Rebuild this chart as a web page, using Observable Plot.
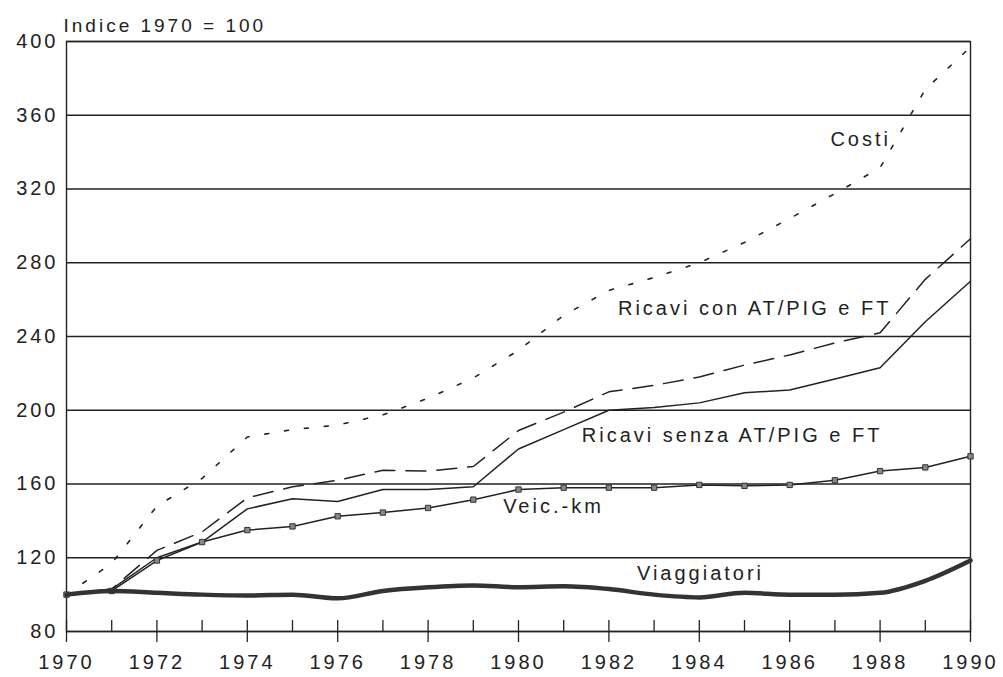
<!DOCTYPE html>
<html>
<head>
<meta charset="utf-8">
<script src="https://cdn.jsdelivr.net/npm/d3@7"></script>
<script src="https://cdn.jsdelivr.net/npm/@observablehq/plot@0.6"></script>
<style>
  html, body { margin: 0; padding: 0; background: #fff; }
</style>
</head>
<body>
<div id="chart"></div>
<script>
const years = [1970, 1971, 1972, 1973, 1974, 1975, 1976, 1977, 1978, 1979, 1980,
               1981, 1982, 1983, 1984, 1985, 1986, 1987, 1988, 1989, 1990];
const xTickLabels = [1970, 1972, 1974, 1976, 1978, 1980, 1982, 1984, 1986, 1988, 1990];
const yTicks = [80, 120, 160, 200, 240, 280, 320, 360, 400];

const viaggiatori = [100, 102, 101, 100, 99.5, 100, 98, 102, 104, 105, 104,
                     104.5, 103, 100, 98.5, 101, 100, 100, 101, 107.5, 118.5];
const veicKm = [100, 102, 118.5, 128.5, 135, 137, 142.5, 144.5, 147, 151.5, 157,
                158, 158, 158, 159.5, 159, 159.5, 162, 167, 169, 175];
const ricaviSenza = [100, 103, 120, 128.5, 146.5, 152, 150.5, 157, 157, 158.5, 179,
                     189.5, 200, 201.5, 204, 209.5, 211, 217, 223, 248, 270];
const ricaviCon = [100, 103, 124, 134, 152.5, 158.5, 162, 167.5, 167, 169.5, 189,
                   199, 210, 213.5, 218, 224.5, 230, 236.5, 242, 271, 293];
const costi = [100, 117, 148, 163, 185.5, 189.5, 192, 197.5, 206.5, 217.5, 232.5,
               251.5, 265, 272, 280, 291, 304, 317.5, 331.5, 374, 397];

const titleText = "Indice 1970 = 100";
const seriesLabels = ["Costi", "Ricavi con AT/PIG e FT", "Ricavi senza AT/PIG e FT", "Veic.-km", "Viaggiatori"];

const toRows = (vals) => years.map((year, i) => ({year, value: vals[i]}));

// label anchor points (data space)
const labelPos = [
  {text: seriesLabels[0], year: 1986.9, value: 347},
  {text: seriesLabels[1], year: 1982.2, value: 255},
  {text: seriesLabels[2], year: 1981.4, value: 186.3},
  {text: seriesLabels[3], year: 1979.66, value: 147.8},
  {text: seriesLabels[4], year: 1982.62, value: 111.5}
];

const ink = "#222";

const chart = Plot.plot({
  width: 1003,
  height: 677,
  marginLeft: 66,
  marginRight: 33,
  marginTop: 41,
  marginBottom: 46,
  style: {fontFamily: "'Liberation Sans', Arial, sans-serif", fontSize: "20px", letterSpacing: "3px", color: ink, background: "#fff"},
  x: {domain: [1970, 1990]},
  y: {domain: [80, 400]},
  marks: [
    Plot.gridY(yTicks, {stroke: ink, strokeOpacity: 1, strokeWidth: 1.4}),
    Plot.frame({stroke: ink, strokeWidth: 1.4}),
    Plot.axisY({ticks: yTicks, tickSize: 0, tickPadding: 8, label: null}),
    Plot.axisX({ticks: years, tickSize: -11, tickFormat: () => "", label: null, stroke: ink, strokeWidth: 1.3}),
    Plot.axisX({ticks: xTickLabels, tickSize: 11, tickPadding: 12, tickFormat: d => String(d), label: null, stroke: ink, strokeWidth: 1.3}),
    Plot.line(toRows(costi), {x: "year", y: "value", stroke: ink, strokeWidth: 1.6, strokeDasharray: "4,16"}),
    Plot.line(toRows(ricaviCon), {x: "year", y: "value", stroke: ink, strokeWidth: 1.5, strokeDasharray: "20,11"}),
    Plot.line(toRows(ricaviSenza), {x: "year", y: "value", stroke: ink, strokeWidth: 1.5}),
    Plot.line(toRows(veicKm), {x: "year", y: "value", stroke: ink, strokeWidth: 1.5}),
    Plot.dot(toRows(veicKm), {x: "year", y: "value", symbol: "square", r: 3, fill: "#888", stroke: "#333", strokeWidth: 1}),
    Plot.line(toRows(viaggiatori), {x: "year", y: "value", stroke: "#333", strokeWidth: 4.5, curve: "monotone-x"}),
    Plot.text(labelPos, {x: "year", y: "value", text: "text", textAnchor: "start", fill: ink, fontSize: 20}),
    Plot.text([titleText], {frameAnchor: "top-left", dx: -3, dy: -23, textAnchor: "start", fill: ink, fontSize: 19})
  ]
});
document.getElementById("chart").appendChild(chart);
</script>
</body>
</html>
